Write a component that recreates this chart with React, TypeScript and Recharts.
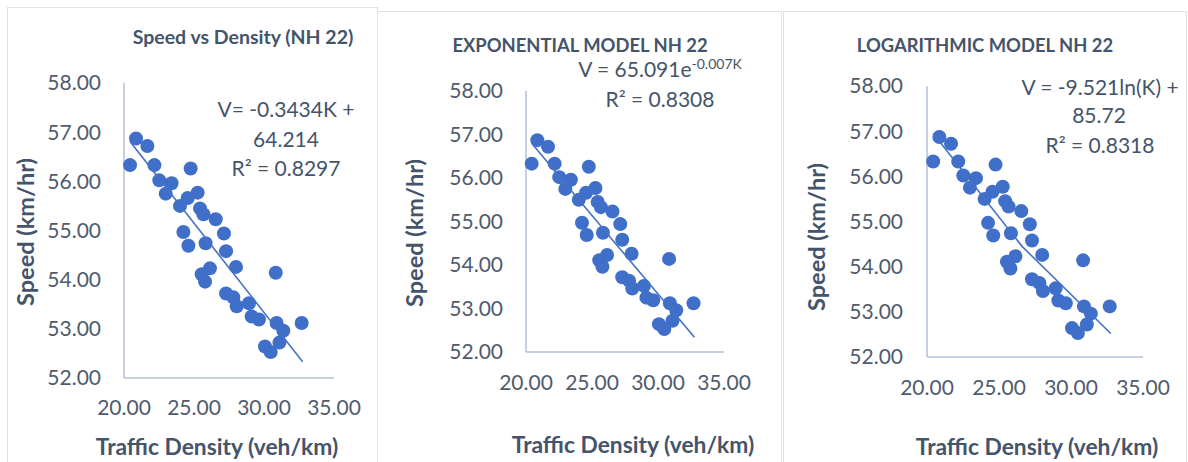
import React from 'react'
import { Scatter, ScatterChart, XAxis, YAxis } from 'recharts'

// traffic density (veh/km) and speed (km/hr), same observations in all three panels
const density = [
  20.86, 21.67, 20.43, 22.17, 22.52, 23.4, 22.98, 24.76, 25.26, 24.55, 24.0, 25.43,
  25.67, 26.55, 27.14, 24.24, 24.6, 25.83, 27.29, 28.0, 30.84, 26.14, 25.55, 25.79,
  27.29, 27.81, 28.05, 28.93, 29.12, 29.64, 30.9, 31.38, 32.69, 31.1, 30.07, 30.48,
]
const speed = [
  56.87, 56.72, 56.33, 56.33, 56.02, 55.96, 55.75, 56.26, 55.77, 55.66, 55.5, 55.45,
  55.33, 55.23, 54.94, 54.97, 54.69, 54.74, 54.58, 54.26, 54.14, 54.23, 54.11, 53.96,
  53.72, 53.64, 53.46, 53.52, 53.25, 53.19, 53.12, 52.96, 53.12, 52.72, 52.64, 52.53,
]

// trendlines as drawn
const linearTrendX = [20.43, 32.76]
const linearTrendY = [56.81, 52.33]
const expTrendX = [20.43, 26.6, 32.76]
const expTrendY = [56.8, 54.56, 52.34]
const logTrendX = [20.43, 26.6, 32.76]
const logTrendY = [56.95, 54.45, 52.52]

const xTicks = [20, 25, 30, 35]
const yTicks = [52, 53, 54, 55, 56, 57, 58]

const points = density.map((x, i) => ({ x, y: speed[i] }))
const toPairs = (xs: number[], ys: number[]) => xs.map((x, i) => ({ x, y: ys[i] }))

const FONT = 'Lato, "Noto Sans", sans-serif'
const TEXT = '#44546a'
const TICK = '#4f5b6d'
const DOT = '#3f6fc8'
const AXIS = '#b4c1d8'
const BORDER = '#dde2ea'

const Dot = (props: any) => <circle cx={props.cx} cy={props.cy} r={7} fill={DOT} />

type PanelProps = {
  left: number
  width: number
  margin: { top: number; right: number; bottom: number; left: number }
  trend: { x: number; y: number }[]
  xTickMargin: number
  yTickMargin: number
}

function Panel({ left, width, margin, trend, xTickMargin, yTickMargin }: PanelProps) {
  const tick = { fontSize: 21, fill: TICK, fontFamily: FONT }
  return (
    <div style={{ position: 'absolute', left, top: 0 }}>
      <ScatterChart width={width} height={462} margin={margin}>
        <XAxis
          type="number"
          dataKey="x"
          domain={[20, 35]}
          ticks={xTicks}
          tickFormatter={(v: number) => v.toFixed(2)}
          tick={tick}
          tickLine={false}
          tickSize={0}
          tickMargin={xTickMargin}
          height={40}
          stroke={AXIS}
          strokeWidth={1.5}
          interval={0}
        />
        <YAxis
          type="number"
          dataKey="y"
          domain={[52, 58]}
          ticks={yTicks}
          tickFormatter={(v: number) => v.toFixed(2)}
          tick={tick}
          tickLine={false}
          tickSize={0}
          tickMargin={yTickMargin}
          width={60}
          stroke={AXIS}
          strokeWidth={1.5}
          interval={0}
          allowDataOverflow
        />
        <Scatter data={points} fill={DOT} shape={Dot} isAnimationActive={false} />
        <Scatter
          data={trend}
          line={{ stroke: '#4472c4', strokeWidth: 1.6 }}
          shape={() => <g />}
          isAnimationActive={false}
        />
      </ScatterChart>
    </div>
  )
}

function Txt({
  x,
  y,
  size,
  bold,
  color = TEXT,
  rotate,
  children,
}: {
  x: number
  y: number
  size: number
  bold?: boolean
  color?: string
  rotate?: boolean
  children: React.ReactNode
}) {
  return (
    <div
      style={{
        position: 'absolute',
        left: x,
        top: y,
        transform: `translate(-50%, -50%)${rotate ? ' rotate(-90deg)' : ''}`,
        fontFamily: FONT,
        fontSize: size,
        fontWeight: bold ? 700 : 400,
        color,
        whiteSpace: 'nowrap',
        lineHeight: 1,
      }}
    >
      {children}
    </div>
  )
}

export default function App() {
  return (
    <div style={{ position: 'absolute', left: 0, top: 0, width: 1188, height: 462, background: '#fff', overflow: 'hidden' }}>
      {/* panel frames */}
      <div style={{ position: 'absolute', left: 7, top: 7, width: 371, height: 470, border: `1.5px solid ${BORDER}`, boxSizing: 'border-box' }} />
      <div style={{ position: 'absolute', left: 378, top: 11, width: 404, height: 470, borderTop: `1.5px solid ${BORDER}`, borderRight: `1.5px solid ${BORDER}`, boxSizing: 'border-box' }} />
      <div style={{ position: 'absolute', left: 783, top: 11, width: 404, height: 470, borderTop: `1.5px solid ${BORDER}`, borderLeft: `1.5px solid ${BORDER}`, borderRight: `1.5px solid ${BORDER}`, boxSizing: 'border-box' }} />

      <Panel
        left={0}
        width={380}
        margin={{ top: 83, right: 46, bottom: 44, left: 64 }}
        trend={toPairs(linearTrendX, linearTrendY)}
        xTickMargin={22}
        yTickMargin={23}
      />
      <Panel
        left={380}
        width={402}
        margin={{ top: 91, right: 58, bottom: 70, left: 86 }}
        trend={toPairs(expTrendX, expTrendY)}
        xTickMargin={23}
        yTickMargin={23}
      />
      <Panel
        left={784}
        width={404}
        margin={{ top: 86, right: 45, bottom: 65, left: 83 }}
        trend={toPairs(logTrendX, logTrendY)}
        xTickMargin={23}
        yTickMargin={24}
      />

      {/* panel 1 text */}
      <Txt x={243} y={37} size={19.5} bold>Speed vs Density (NH 22)</Txt>
      <Txt x={286} y={108} size={21}>V= -0.3434K +</Txt>
      <Txt x={286} y={138} size={21}>64.214</Txt>
      <Txt x={286} y={167} size={21}>R² = 0.8297</Txt>
      <Txt x={26} y={232} size={23.5} bold rotate>Speed (km/hr)</Txt>
      <Txt x={217} y={446} size={22.8} bold>Traffic Density (veh/km)</Txt>

      {/* panel 2 text */}
      <Txt x={580} y={45} size={18.4} bold>EXPONENTIAL MODEL NH 22</Txt>
      <Txt x={660} y={68} size={21}>
        V = 65.091e<span style={{ fontSize: 14, position: 'relative', top: -8 }}>-0.007K</span>
      </Txt>
      <Txt x={660} y={98} size={21}>R² = 0.8308</Txt>
      <Txt x={415} y={233} size={23.5} bold rotate>Speed (km/hr)</Txt>
      <Txt x={633} y={444} size={22.8} bold>Traffic Density (veh/km)</Txt>

      {/* panel 3 text */}
      <Txt x={985} y={45} size={18.4} bold>LOGARITHMIC MODEL NH 22</Txt>
      <Txt x={1100} y={86} size={21}>V = -9.521ln(K) +</Txt>
      <Txt x={1099} y={114} size={21}>85.72</Txt>
      <Txt x={1100} y={144} size={21}>R² = 0.8318</Txt>
      <Txt x={817} y={237} size={23.5} bold rotate>Speed (km/hr)</Txt>
      <Txt x={1037} y={446} size={22.8} bold>Traffic Density (veh/km)</Txt>
    </div>
  )
}
